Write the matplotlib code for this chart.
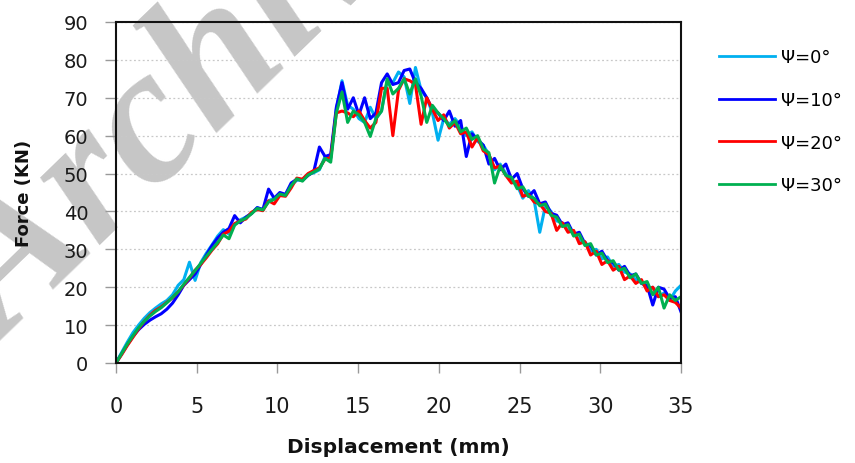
import numpy as np
import matplotlib
matplotlib.use('Agg')
import matplotlib.pyplot as plt

# displacement samples shared by all four runs (mm)
displacement = np.linspace(0, 35, 101)

force_psi0 = [
    0, 2.8, 5.5, 8.0, 10.0, 11.8, 13.3, 14.5, 15.6, 16.5,
    18.0, 20.5, 22.0, 26.6, 21.8, 26.5, 29.0, 31.2, 33.5, 35.2,
    34.0, 36.5, 37.8, 38.5, 39.5, 41.0, 40.5, 42.8, 43.5, 44.2,
    44.5, 47.0, 48.2, 48.5, 49.8, 50.2, 51.0, 54.5, 54.0, 67.0,
    74.5, 68.0, 67.0, 64.5, 63.5, 67.5, 64.5, 66.5, 74.5, 74.0,
    76.8, 75.5, 68.5, 78.0, 72.0, 70.0, 66.0, 58.8, 64.5, 63.0,
    64.5, 62.5, 60.0, 61.0, 58.5, 57.5, 55.0, 51.0, 52.5, 50.0,
    48.0, 47.0, 43.5, 45.5, 43.0, 34.5, 41.5, 40.0, 37.5, 37.0,
    35.0, 34.5, 32.5, 32.0, 29.5, 30.0, 27.5, 28.0, 25.5, 26.0,
    24.0, 23.5, 22.0, 21.5, 19.5, 20.0, 17.5, 18.5, 16.5, 19.0,
    20.5,
]

force_psi10 = [
    0, 2.4, 4.8, 7.0, 8.8, 10.2, 11.3, 12.2, 13.0, 14.2,
    15.8, 18.0, 20.5, 22.0, 23.5, 26.0, 28.5, 31.0, 33.0, 34.5,
    35.5, 38.9, 37.0, 38.5, 39.5, 41.0, 40.5, 45.9, 43.5, 45.0,
    44.5, 47.5, 48.5, 48.2, 49.5, 50.5, 57.0, 54.5, 55.0, 67.5,
    74.0, 67.0, 70.0, 65.5, 70.0, 64.5, 66.0, 74.0, 76.3, 73.5,
    74.0, 77.2, 77.6, 74.0, 72.5, 70.0, 67.0, 66.0, 64.0, 66.5,
    62.5, 64.0, 54.5, 60.5, 59.0, 57.5, 52.5, 54.0, 51.0, 52.5,
    48.5, 50.0, 46.0, 44.0, 45.5, 42.0, 42.5, 39.5, 39.0, 36.5,
    37.0, 34.0, 34.5, 31.5, 31.0, 28.5, 29.5, 27.0, 26.5, 24.5,
    25.5, 23.0, 23.5, 21.0, 20.5, 15.3, 20.0, 19.5, 17.0, 17.5,
    13.5,
]

force_psi20 = [
    0, 2.2, 4.6, 6.8, 9.0, 11.0, 12.6, 13.9, 14.8, 16.0,
    17.2, 18.8, 20.6, 22.4, 24.5, 26.0, 27.8, 29.8, 31.5, 34.0,
    34.8, 36.8, 37.5, 38.0, 39.8, 40.5, 40.2, 42.8, 42.0, 44.2,
    44.0, 46.2, 48.8, 48.5, 50.0, 50.8, 51.5, 53.8, 54.2, 66.0,
    66.5, 66.0, 65.0, 66.5, 64.0, 62.0, 63.5, 72.5, 72.5, 60.0,
    72.0, 75.0, 74.5, 73.5, 63.0, 70.0, 67.0, 64.0, 65.5, 62.0,
    63.5, 60.5, 61.0, 57.0, 59.5, 56.0, 55.0, 51.5, 52.0, 49.5,
    47.5, 48.0, 44.0, 44.5, 42.5, 42.0, 40.0, 39.5, 35.0, 37.0,
    34.5, 35.0, 31.5, 32.0, 28.5, 29.5, 26.0, 27.0, 24.5, 25.5,
    22.0, 23.0, 21.0, 22.0, 19.0, 20.0, 17.5, 18.0, 16.5, 16.0,
    14.5,
]

force_psi30 = [
    0, 2.5, 5.0, 7.2, 9.3, 11.0, 12.4, 13.6, 14.6, 15.9,
    17.3, 18.8, 20.8, 22.6, 24.4, 26.3, 28.2, 30.0, 31.8, 33.8,
    32.8, 36.4, 37.5, 38.2, 39.4, 40.8, 40.4, 42.5, 43.2, 44.6,
    44.2, 46.8, 48.6, 48.0, 49.6, 50.4, 51.2, 54.0, 53.0, 66.0,
    71.5, 63.5, 66.5, 65.5, 63.5, 59.8, 64.5, 66.5, 75.0, 71.0,
    72.5, 75.0, 71.0, 75.0, 70.5, 63.5, 68.0, 66.0, 64.5, 62.5,
    64.0, 61.0, 62.0, 59.0, 60.0, 56.5, 55.5, 47.5, 52.0, 49.5,
    49.0, 46.0, 46.5, 44.0, 43.5, 41.5, 42.0, 39.0, 38.5, 36.0,
    36.5, 33.5, 34.0, 31.0, 31.5, 28.5, 29.0, 26.5, 27.0, 24.5,
    25.0, 22.5, 23.5, 21.0, 21.5, 18.0, 20.0, 14.5, 18.0, 16.5,
    17.5,
]

series = [
    ('\u03a8=0\u00b0', force_psi0, '#00b0f0'),
    ('\u03a8=10\u00b0', force_psi10, '#0000ff'),
    ('\u03a8=20\u00b0', force_psi20, '#ff0000'),
    ('\u03a8=30\u00b0', force_psi30, '#00b050'),
]

x_ticks = [0, 5, 10, 15, 20, 25, 30, 35]
y_ticks = [0, 10, 20, 30, 40, 50, 60, 70, 80, 90]

W, H = 855, 464
fig = plt.figure(figsize=(W / 100, H / 100), dpi=100)
fig.patch.set_facecolor('white')

ax = fig.add_axes([116 / W, 1 - 364 / H, (681 - 116) / W, (364 - 23) / H])
ax.set_facecolor('none')

handles = []
for label, values, color in series:
    line, = ax.plot(displacement, values, color=color, lw=2.2, label=label,
                    solid_joinstyle='round')
    handles.append(line)

ax.set_xlim(0, 35)
ax.set_ylim(0, 90)
ax.set_xticks(x_ticks)
ax.set_yticks(y_ticks)
ax.yaxis.grid(True, linestyle=(0, (1.5, 2)), color='#c8c8c8', lw=0.9)
ax.set_axisbelow(True)

for side in ['top', 'right', 'left', 'bottom']:
    ax.spines[side].set_color('#111111')
    ax.spines[side].set_linewidth(1.5)

ax.tick_params(axis='x', direction='out', length=7, width=1, color='#999999',
               pad=17, labelsize=15, labelcolor='#1a1a1a')
ax.tick_params(axis='y', direction='out', length=8, width=1, color='#999999',
               pad=12, labelsize=14, labelcolor='#1a1a1a')

fig.text(24 / W, 1 - 193 / H, 'Force (KN)', rotation=90, ha='center',
         va='center', fontsize=13, fontweight='bold', color='#111111')
fig.text(398 / W, 1 - 448 / H, 'Displacement (mm)', ha='center',
         va='center', fontsize=14.5, fontweight='bold', color='#111111')

leg = ax.legend(handles=handles, loc='upper left',
                bbox_to_anchor=(712 / W, 1 - 42 / H),
                bbox_transform=fig.transFigure, frameon=False,
                fontsize=13, handlelength=3.1, handletextpad=0.3,
                labelspacing=1.37, borderaxespad=0)
for h in leg.legend_handles:
    h.set_linewidth(2.0)

# grey watermark behind the axes
fig.text(7 / W, 1 - 345 / H, 'Archive of SID', fontsize=140,
         family='Liberation Serif', fontweight='bold', style='italic',
         color='#c6c6c6', rotation=44, rotation_mode='anchor',
         ha='left', va='baseline', zorder=-1)

fig.savefig('out.png', dpi=100, facecolor='white')
